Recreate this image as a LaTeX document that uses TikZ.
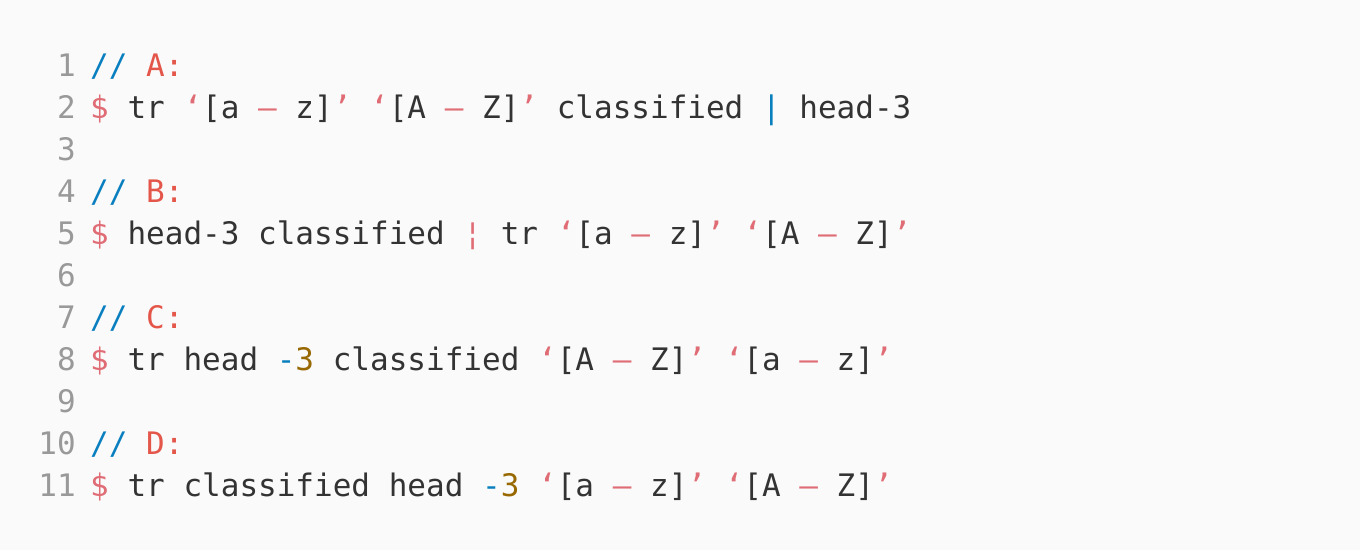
\documentclass[tikz,border=0pt]{standalone}
\usepackage{fontspec}
\newfontfamily\codefont{DejaVu Sans Mono}
\definecolor{bgcol}{HTML}{FAFAFA}
\definecolor{numcol}{HTML}{999999}
\definecolor{txtcol}{HTML}{333333}
\definecolor{cmtcol}{HTML}{0A7FBF}
\definecolor{labcol}{HTML}{E45649}
\definecolor{strcol}{HTML}{E06C75}
\definecolor{nrcol}{HTML}{986801}
\newcommand{\Rd}[1]{\textcolor{strcol}{#1}}
\newcommand{\Bl}[1]{\textcolor{cmtcol}{#1}}
\newcommand{\Lb}[1]{\textcolor{labcol}{#1}}
\newcommand{\Nr}[1]{\textcolor{nrcol}{#1}}
\newcommand{\Low}{\Rd{‘}[a \Rd{–} z]\Rd{’}}
\newcommand{\Upp}{\Rd{‘}[A \Rd{–} Z]\Rd{’}}
\begin{document}
\begin{tikzpicture}[x=1pt,y=-1pt,
    codeline/.style={anchor=base west,inner sep=0pt,text=txtcol,font=\codefont\fontsize{31}{42}\selectfont},
    linenr/.style={anchor=base east,inner sep=0pt,text=numcol,font=\codefont\fontsize{31}{42}\selectfont}]
    \fill[bgcol] (0,0) rectangle (1360,550);
    \useasboundingbox (0,0) rectangle (1360,550);
    \foreach \i in {1,...,11}
        \node[linenr] (n\i) at (76,{76+42*(\i-1)}) {\i};
    \node[codeline] (c1) at (90,76) {\Bl{//} \Lb{A:}};
    \node[codeline] (c2) at (90,118) {\Rd{\$} tr \Low{} \Upp{} classified \Bl{|} head-3};
    \node[codeline] (c4) at (90,202) {\Bl{//} \Lb{B:}};
    \node[codeline] (c5) at (90,244) {\Rd{\$} head-3 classified \Rd{¦} tr \Low{} \Upp};
    \node[codeline] (c7) at (90,328) {\Bl{//} \Lb{C:}};
    \node[codeline] (c8) at (90,370) {\Rd{\$} tr head \Bl{-}\Nr{3} classified \Upp{} \Low};
    \node[codeline] (c10) at (90,454) {\Bl{//} \Lb{D:}};
    \node[codeline] (c11) at (90,496) {\Rd{\$} tr classified head \Bl{-}\Nr{3} \Low{} \Upp};
\end{tikzpicture}
\end{document}
